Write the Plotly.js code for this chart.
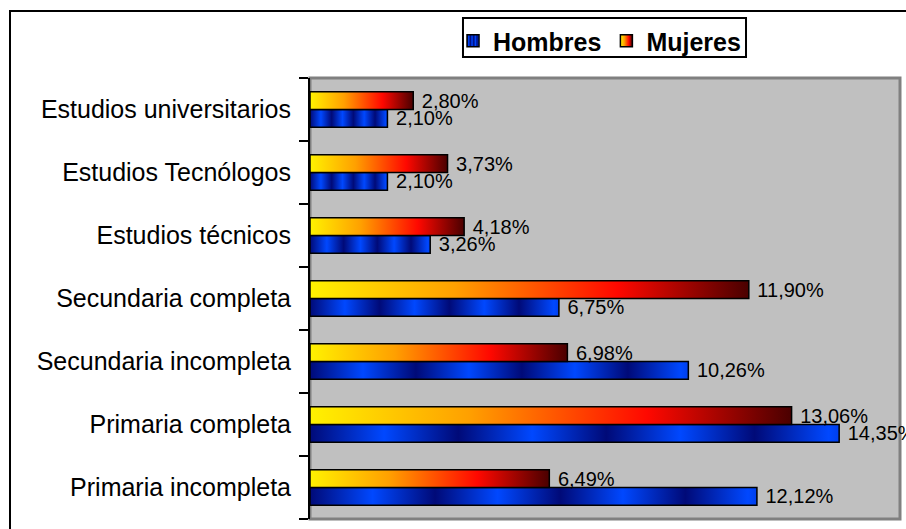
<!DOCTYPE html>
<html>
<head>
<meta charset="utf-8">
<script src="https://cdn.plot.ly/plotly-3.0.1.min.js"></script>
<style>
  html, body { margin: 0; padding: 0; background: #ffffff; overflow: hidden; }
  #wrap { position: relative; width: 906px; height: 529px; }
  #chart { position: absolute; left: 0; top: 0; width: 906px; height: 529px; }
  #frame { position: absolute; left: 9px; top: 10px; width: 920px; height: 540px;
           border-left: 2px solid #000; border-top: 2px solid #000; pointer-events: none; }
</style>
</head>
<body>
<div id="wrap">
  <div id="chart"></div>
  <div id="frame"></div>
</div>
<script>
// Categories listed bottom to top (Plotly category axis starts at the bottom)
const categories = [
  "Primaria incompleta",
  "Primaria completa",
  "Secundaria incompleta",
  "Secundaria completa",
  "Estudios técnicos",
  "Estudios Tecnólogos",
  "Estudios universitarios"
];
const hombres = [12.12, 14.35, 10.26, 6.75, 3.26, 2.10, 2.10];
const mujeres = [6.49, 13.06, 6.98, 11.90, 4.18, 3.73, 2.80];
const seriesNames = ["Hombres", "Mujeres"];

const FONT = '"Liberation Sans", Arial, sans-serif';

function barTrace(name, values, baseColor) {
  return {
    type: 'bar',
    orientation: 'h',
    name: name,
    y: categories,
    x: values,
    marker: { color: baseColor, line: { color: '#000000', width: 1.5 } },
    texttemplate: '\u00a0%{x:.2f}%',
    textposition: 'outside',
    textfont: { family: FONT, size: 20, color: '#000000' },
    constraintext: 'none',
    cliponaxis: false,
    hoverinfo: 'skip'
  };
}

const data = [
  barTrace(seriesNames[0], hombres, '#0030c0'),
  barTrace(seriesNames[1], mujeres, '#ff6600')
];

const layout = {
  width: 906,
  height: 529,
  margin: { l: 310, r: 6, t: 78, b: 10, pad: 0 },
  paper_bgcolor: 'rgba(0,0,0,0)',
  plot_bgcolor: '#c0c0c0',
  separators: ',.',
  barmode: 'group',
  bargap: 0.44,
  bargroupgap: 0,
  showlegend: true,
  font: { family: FONT, color: '#000000' },
  xaxis: {
    range: [0, 16],
    visible: false,
    showgrid: false,
    zeroline: false,
    fixedrange: true
  },
  yaxis: {
    type: 'category',
    categoryorder: 'array',
    categoryarray: categories,
    showline: true,
    linecolor: '#000000',
    linewidth: 2,
    ticks: 'outside',
    tickson: 'boundaries',
    ticklen: 9,
    tickwidth: 2,
    tickcolor: '#000000',
    tickfont: { family: FONT, size: 25, color: '#000000' },
    ticklabelstandoff: 12,
    showgrid: false,
    zeroline: false,
    automargin: false,
    fixedrange: true
  },
  legend: {
    orientation: 'h',
    x: 0.2424,
    xanchor: 'left',
    y: 1.136,
    yanchor: 'top',
    bgcolor: 'rgba(0,0,0,0)',
    borderwidth: 0,
    traceorder: 'normal',
    itemwidth: 30,
    font: { family: FONT, size: 25, weight: 'bold', color: '#000000' }
  },
  shapes: [
    {
      type: 'rect', xref: 'paper', yref: 'paper',
      x0: 0, x1: 1, y0: 0, y1: 1,
      line: { color: '#808080', width: 3 },
      fillcolor: 'rgba(0,0,0,0)',
      layer: 'below'
    },
    {
      type: 'rect', xref: 'paper', yref: 'paper',
      x0: 0.2593, x1: 0.739, y0: 1.0476, y1: 1.136,
      line: { color: '#000000', width: 2 },
      fillcolor: '#ffffff',
      layer: 'above'
    }
  ]
};

const config = { staticPlot: true, displayModeBar: false };

const gd = document.getElementById('chart');

function applyGradients() {
  const ns = 'http://www.w3.org/2000/svg';
  const svg = gd.querySelector('svg.main-svg');
  let defs = svg.querySelector('defs');
  if (!defs) { defs = document.createElementNS(ns, 'defs'); svg.insertBefore(defs, svg.firstChild); }
  function grad(id, stops, x2, repeat) {
    if (document.getElementById(id)) return;
    const g = document.createElementNS(ns, 'linearGradient');
    g.setAttribute('id', id);
    g.setAttribute('x1', '0'); g.setAttribute('y1', '0');
    g.setAttribute('x2', String(x2)); g.setAttribute('y2', '0');
    if (repeat) g.setAttribute('spreadMethod', 'repeat');
    stops.forEach(function (s) {
      const st = document.createElementNS(ns, 'stop');
      st.setAttribute('offset', s[0]);
      st.setAttribute('stop-color', s[1]);
      g.appendChild(st);
    });
    defs.appendChild(g);
  }
  grad('gradHombres', [[0, '#000a78'], [0.5, '#0048ff'], [1, '#000a78']], 0.28, true);
  grad('gradMujeres', [[0, '#fff200'], [0.33, '#ffa000'], [0.7, '#ff0800'], [1, '#4a0000']], 1, false);
  const ids = ['url(#gradHombres)', 'url(#gradMujeres)'];
  gd.querySelectorAll('.barlayer .trace').forEach(function (tr, i) {
    tr.querySelectorAll('.point path').forEach(function (p) { p.style.fill = ids[i]; });
  });
  gd.querySelectorAll('.legend .traces').forEach(function (tr, i) {
    tr.querySelectorAll('.legendpoints path').forEach(function (p) { p.style.fill = ids[i]; });
  });
}

Plotly.newPlot(gd, data, layout, config).then(applyGradients);
</script>
</body>
</html>
